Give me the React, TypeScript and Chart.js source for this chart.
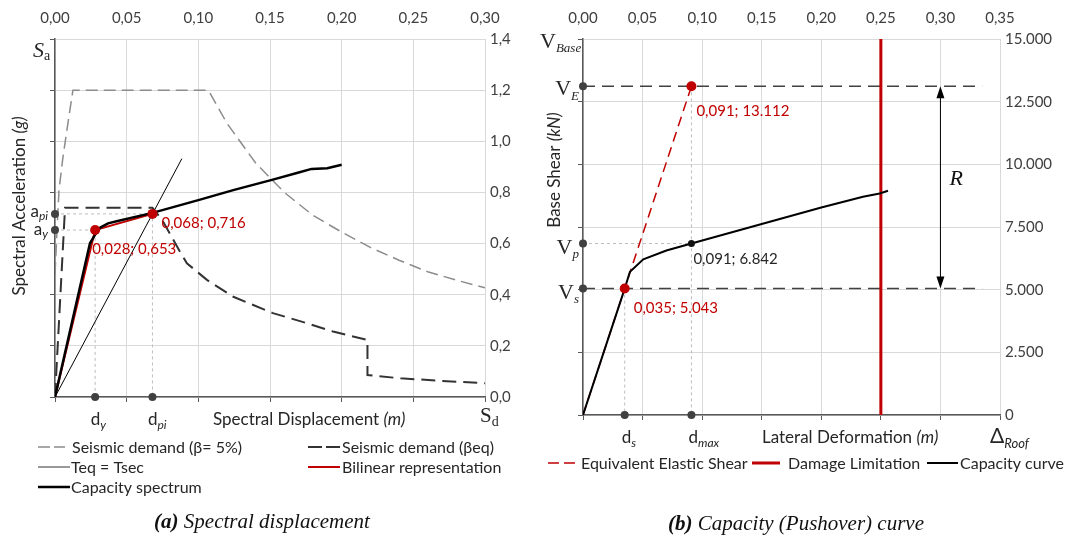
import React, { useEffect, useRef } from 'react';
import { Chart, registerables } from 'chart.js';
Chart.register(...registerables);

// ---------------- (a) Spectral displacement ----------------
const demand5X = [0, 0.0014, 0.0028, 0.0056, 0.009, 0.0125, 0.107, 0.12, 0.14, 0.16, 0.18, 0.2, 0.22, 0.24, 0.26, 0.28, 0.3];
const demand5Y = [0.48, 0.65, 0.81, 0.94, 1.07, 1.2, 1.2, 1.07, 0.915, 0.8, 0.71, 0.645, 0.585, 0.535, 0.49, 0.457, 0.427];
const demandEqX = [0, 0.007, 0.068, 0.075, 0.087, 0.092, 0.106, 0.124, 0.152, 0.175, 0.194, 0.218, 0.218, 0.241, 0.27, 0.3];
const demandEqY = [0, 0.74, 0.74, 0.69, 0.57, 0.523, 0.458, 0.393, 0.328, 0.29, 0.256, 0.223, 0.086, 0.073, 0.063, 0.054];
const teqX = [0, 0.0885];
const teqY = [0, 0.932];
const capSpecX = [0, 0.0244, 0.028, 0.0314, 0.037, 0.043, 0.068, 0.1, 0.125, 0.152, 0.17, 0.179, 0.19, 0.2];
const capSpecY = [0, 0.601, 0.635, 0.662, 0.679, 0.687, 0.72, 0.77, 0.81, 0.85, 0.878, 0.892, 0.895, 0.908];
const bilinX = [0, 0.028, 0.068];
const bilinY = [0, 0.653, 0.716];
const dY = 0.028, aY = 0.653; // yield point
const dPi = 0.068, aPi = 0.716; // performance point
const leftXTicks = { min: 0, max: 0.3, step: 0.05 };
const leftYTicks = { min: 0, max: 1.4, step: 0.2 };

// ---------------- (b) Capacity (Pushover) curve ----------------
const pushX = [0, 0.035, 0.0394, 0.0506, 0.07, 0.091, 0.15, 0.2, 0.235, 0.249, 0.256];
const pushY = [0, 5043, 5714, 6208, 6560, 6842, 7620, 8280, 8706, 8840, 8944];
const dS = 0.035, vS = 5043;
const dMax = 0.091, vP = 6842;
const vE = 13112;
const elasticX = [0, dMax];
const elasticY = [0, vE];
const damageLimitX = 0.25;
const dashedEndX = 0.335;
const arrowX = 0.3;
const rightXTicks = { min: 0, max: 0.35, step: 0.05 };
const rightYTicks = { min: 0, max: 15000, step: 2500 };

// ---------------- styling ----------------
const SANS = 'Lato, "Open Sans", sans-serif';
const SERIF = '"Liberation Serif", "DejaVu Serif", serif';
const RED = '#c00000';
const DARK = '#404040';
const TEXT = '#262626';
const GRID = '#d9d9d9';
const AXIS = '#595959';
const GUIDE = '#bdbdbd';
const GRAY_DEMAND = '#8c8c8c';

const fnt = (size: number, style = '', family = SANS) => `${style} ${size}px ${family}`.trim();
const pts = (xs: number[], ys: number[]) => xs.map((x, i) => ({ x, y: ys[i] }));
const comma = (v: number, d: number) => Number(v).toFixed(d).replace('.', ',');
const thousands = (v: number) => String(Math.round(v)).replace(/\B(?=(\d{3})+(?!\d))/g, '.');

type Seg = { t: string; f: string; dy?: number; c?: string };
function drawRich(ctx: CanvasRenderingContext2D, x: number, y: number, segs: Seg[], align: 'left' | 'center' | 'right' = 'left', color = TEXT) {
  ctx.save();
  ctx.textBaseline = 'alphabetic';
  ctx.textAlign = 'left';
  let w = 0;
  for (const s of segs) { ctx.font = s.f; w += ctx.measureText(s.t).width; }
  let cx = align === 'left' ? x : align === 'center' ? x - w / 2 : x - w;
  for (const s of segs) {
    ctx.font = s.f;
    ctx.fillStyle = s.c || color;
    ctx.fillText(s.t, cx, y + (s.dy || 0));
    cx += ctx.measureText(s.t).width;
  }
  ctx.restore();
}
function legendLine(ctx: CanvasRenderingContext2D, x1: number, x2: number, y: number, color: string, width: number, dash: number[] = []) {
  ctx.save();
  ctx.strokeStyle = color;
  ctx.lineWidth = width;
  ctx.setLineDash(dash);
  ctx.beginPath();
  ctx.moveTo(x1, y);
  ctx.lineTo(x2, y);
  ctx.stroke();
  ctx.restore();
}

const lineDs = (label: string, data: any[], color: string, width: number, dash: number[] = [], order = 5) => ({
  label, data, showLine: true, borderColor: color, backgroundColor: color, borderWidth: width,
  borderDash: dash, pointRadius: 0, tension: 0, order,
});
const markerDs = (label: string, data: any[], color: string, radius: number, order = 0) => ({
  label, data, showLine: false, pointRadius: radius, pointBackgroundColor: color, pointBorderColor: color,
  pointBorderWidth: 0, clip: false as any, order,
});

const fixedW = (w: number) => (s: any) => { s.width = w; };
const fixedH = (h: number) => (s: any) => { s.height = h; };

function axisSet(xr: any, yr: any, dims: { left: number; right: number; top: number; bottom: number }, xFmt: (v: number) => string, yFmt: (v: number) => string) {
  const tickFont = { family: SANS, size: 15 };
  return {
    x: {
      type: 'linear', position: 'bottom', min: xr.min, max: xr.max, afterFit: fixedH(dims.bottom),
      ticks: { stepSize: xr.step, display: false },
      grid: { color: GRID, tickColor: AXIS, tickLength: 5, lineWidth: 1 },
      border: { color: AXIS, width: 1.5 },
    },
    x2: {
      type: 'linear', position: 'top', min: xr.min, max: xr.max, afterFit: fixedH(dims.top),
      ticks: { stepSize: xr.step, padding: 12, font: tickFont, color: DARK, callback: (v: any) => xFmt(v) },
      grid: { display: false, drawTicks: false }, border: { display: false },
    },
    y: {
      type: 'linear', position: 'left', min: yr.min, max: yr.max, afterFit: fixedW(dims.left),
      ticks: { stepSize: yr.step, display: false },
      grid: { color: GRID, tickColor: AXIS, tickLength: 5, lineWidth: 1 },
      border: { color: AXIS, width: 1.5 },
    },
    y2: {
      type: 'linear', position: 'right', min: yr.min, max: yr.max, afterFit: fixedW(dims.right),
      ticks: { stepSize: yr.step, padding: 5, font: tickFont, color: DARK, callback: (v: any) => yFmt(v) },
      grid: { display: false, drawTicks: false }, border: { display: false },
    },
  };
}

function leftConfig(): any {
  const labelsPlugin = {
    id: 'leftLabels',
    afterDraw(chart: any) {
      const { ctx, scales } = chart;
      const X = (v: number) => scales.x.getPixelForValue(v);
      const Y = (v: number) => scales.y.getPixelForValue(v);
      // axis symbols
      drawRich(ctx, 33, 57, [{ t: 'S', f: fnt(22, 'italic', SERIF) }, { t: 'a', f: fnt(14, '', SERIF), dy: 3 }]);
      drawRich(ctx, 48, Y(aPi) + 3, [{ t: 'a', f: fnt(17) }, { t: 'pi', f: fnt(12, 'italic'), dy: 3 }], 'right');
      drawRich(ctx, 48, Y(aY) + 5, [{ t: 'a', f: fnt(17) }, { t: 'y', f: fnt(12, 'italic'), dy: 3 }], 'right');
      drawRich(ctx, X(dY) - 4.5, 425, [{ t: 'd', f: fnt(17) }, { t: 'y', f: fnt(12, 'italic'), dy: 4 }]);
      drawRich(ctx, X(dPi) - 4.5, 425, [{ t: 'd', f: fnt(17) }, { t: 'pi', f: fnt(12, 'italic'), dy: 4 }]);
      drawRich(ctx, 213, 425, [{ t: 'Spectral Displacement ', f: fnt(17) }, { t: '(m)', f: fnt(17, 'italic') }]);
      drawRich(ctx, 480, 422, [{ t: 'S', f: fnt(21, '', SERIF) }, { t: 'd', f: fnt(14, '', SERIF), dy: 4 }]);
      // y title
      ctx.save();
      ctx.translate(25, 206);
      ctx.rotate(-Math.PI / 2);
      drawRich(ctx, 0, 0, [{ t: 'Spectral Acceleration ', f: fnt(17) }, { t: '(g)', f: fnt(17, 'italic') }], 'center');
      ctx.restore();
      // point labels
      drawRich(ctx, X(dPi) + 9, Y(aPi) + 14, [{ t: `${comma(dPi, 3)}; ${comma(aPi, 3)}`, f: fnt(15) }], 'left', RED);
      drawRich(ctx, X(dY) - 3, Y(aY) + 24, [{ t: `${comma(dY, 3)}; ${comma(aY, 3)}`, f: fnt(15) }], 'left', RED);
      // legend
      const lf = fnt(16);
      legendLine(ctx, 38, 65, 447, GRAY_DEMAND, 1.5, [12, 4]);
      drawRich(ctx, 72, 453, [{ t: 'Seismic demand (β= 5%)', f: lf }]);
      legendLine(ctx, 308, 340, 447, '#333333', 2, [14, 4]);
      drawRich(ctx, 342, 453, [{ t: 'Seismic demand (βeq)', f: lf }]);
      legendLine(ctx, 38, 70, 467, '#333333', 1);
      drawRich(ctx, 71, 473, [{ t: 'Teq = Tsec', f: lf }]);
      legendLine(ctx, 308, 340, 467, RED, 2);
      drawRich(ctx, 342, 473, [{ t: 'Bilinear representation', f: lf }]);
      legendLine(ctx, 38, 70, 487, '#000000', 2.5);
      drawRich(ctx, 71, 493, [{ t: 'Capacity spectrum', f: lf }]);
      // caption
      drawRich(ctx, 262, 528, [{ t: '(a)', f: fnt(21, 'italic bold', SERIF) }, { t: ' Spectral displacement', f: fnt(21, 'italic', SERIF) }], 'center', '#111111');
    },
  };
  return {
    type: 'scatter',
    data: {
      datasets: [
        markerDs('axis marks', [{ x: 0, y: aPi }, { x: 0, y: aY }, { x: dY, y: 0 }, { x: dPi, y: 0 }], DARK, 4, 0),
        markerDs('points', [{ x: dY, y: aY }, { x: dPi, y: aPi }], RED, 5, 1),
        lineDs('Capacity spectrum', pts(capSpecX, capSpecY), '#000000', 2.5, [], 2),
        lineDs('Bilinear representation', pts(bilinX, bilinY), RED, 2, [], 3),
        lineDs('Teq = Tsec', pts(teqX, teqY), '#000000', 1, [], 4),
        lineDs('Seismic demand (βeq)', pts(demandEqX, demandEqY), '#333333', 2, [14, 7], 5),
        lineDs('Seismic demand (β= 5%)', pts(demand5X, demand5Y), GRAY_DEMAND, 1.5, [12, 6], 6),
        lineDs('guide pi', [{ x: 0, y: aPi }, { x: dPi, y: aPi }, { x: dPi, y: 0 }], GUIDE, 1, [3, 3], 7),
        lineDs('guide y', [{ x: 0, y: aY }, { x: dY, y: aY }, { x: dY, y: 0 }], GUIDE, 1, [3, 3], 8),
      ],
    },
    options: {
      responsive: false, maintainAspectRatio: false, animation: false, events: [],
      layout: { padding: 0 },
      plugins: { legend: { display: false }, tooltip: { enabled: false } },
      scales: axisSet(leftXTicks, leftYTicks, { left: 55, right: 50, top: 39, bottom: 142 }, (v) => comma(v, 2), (v) => comma(v, 1)),
    },
    plugins: [labelsPlugin],
  };
}

function rightConfig(): any {
  const labelsPlugin = {
    id: 'rightLabels',
    afterDraw(chart: any) {
      const { ctx, scales } = chart;
      const X = (v: number) => scales.x.getPixelForValue(v);
      const Y = (v: number) => scales.y.getPixelForValue(v);
      const vf = fnt(22, '', SERIF);
      const sf = fnt(13, 'italic', SERIF);
      drawRich(ctx, 5, 48, [{ t: 'V', f: vf }, { t: 'Base', f: sf, dy: 4 }]);
      drawRich(ctx, 44, Y(vE) + 9, [{ t: 'V', f: vf }, { t: 'E', f: sf, dy: 5 }], 'right');
      drawRich(ctx, 44, Y(vP) + 11, [{ t: 'V', f: vf }, { t: 'p', f: sf, dy: 4 }], 'right');
      drawRich(ctx, 44, Y(vS) + 10, [{ t: 'V', f: vf }, { t: 's', f: sf, dy: 4 }], 'right');
      // y title
      ctx.save();
      ctx.translate(25, 170);
      ctx.rotate(-Math.PI / 2);
      drawRich(ctx, 0, 0, [{ t: 'Base Shear ', f: fnt(17) }, { t: '(kN)', f: fnt(17, 'italic') }], 'center');
      ctx.restore();
      // bottom labels
      drawRich(ctx, X(dS) - 3, 443, [{ t: 'd', f: fnt(17) }, { t: 's', f: fnt(12, 'italic'), dy: 4 }]);
      drawRich(ctx, X(dMax) - 3, 443, [{ t: 'd', f: fnt(17) }, { t: 'max', f: fnt(12, 'italic'), dy: 4 }]);
      drawRich(ctx, 762 - 535, 443, [{ t: 'Lateral Deformation ', f: fnt(17) }, { t: '(m)', f: fnt(17, 'italic') }]);
      drawRich(ctx, 990 - 535, 443, [{ t: 'Δ', f: fnt(21) }, { t: 'Roof', f: fnt(13, 'italic'), dy: 5 }]);
      // point labels
      drawRich(ctx, X(dMax) + 5, Y(vE) + 30, [{ t: `${comma(dMax, 3)}; ${thousands(vE)}`, f: fnt(15) }], 'left', RED);
      drawRich(ctx, X(dMax) + 2, Y(vP) + 21, [{ t: `${comma(dMax, 3)}; ${thousands(vP)}`, f: fnt(15) }], 'left', TEXT);
      drawRich(ctx, X(dS) + 9, Y(vS) + 24, [{ t: `${comma(dS, 3)}; ${thousands(vS)}`, f: fnt(15) }], 'left', RED);
      // R arrow
      const ax = X(arrowX), y1 = Y(vE), y2 = Y(vS);
      ctx.save();
      ctx.strokeStyle = '#000';
      ctx.fillStyle = '#000';
      ctx.lineWidth = 1;
      ctx.beginPath();
      ctx.moveTo(ax, y1 + 10);
      ctx.lineTo(ax, y2 - 10);
      ctx.stroke();
      ctx.beginPath();
      ctx.moveTo(ax, y1); ctx.lineTo(ax - 4, y1 + 12); ctx.lineTo(ax + 4, y1 + 12); ctx.closePath(); ctx.fill();
      ctx.beginPath();
      ctx.moveTo(ax, y2); ctx.lineTo(ax - 4, y2 - 12); ctx.lineTo(ax + 4, y2 - 12); ctx.closePath(); ctx.fill();
      ctx.restore();
      drawRich(ctx, ax + 9, (y1 + y2) / 2 - 2, [{ t: 'R', f: fnt(22, 'italic', SERIF) }], 'left', '#111');
      // legend
      const lf = fnt(16);
      legendLine(ctx, 13, 40, 463, RED, 1.5, [11, 5]);
      drawRich(ctx, 46, 469, [{ t: 'Equivalent Elastic Shear', f: lf }]);
      legendLine(ctx, 217, 245, 463, RED, 3);
      drawRich(ctx, 253, 469, [{ t: 'Damage Limitation', f: lf }]);
      legendLine(ctx, 392, 423, 463, '#000000', 2);
      drawRich(ctx, 425, 469, [{ t: 'Capacity curve', f: lf }]);
      // caption
      drawRich(ctx, 261, 530, [{ t: '(b)', f: fnt(21, 'italic bold', SERIF) }, { t: ' Capacity (Pushover) curve', f: fnt(21, 'italic', SERIF) }], 'center', '#111111');
    },
  };
  return {
    type: 'scatter',
    data: {
      datasets: [
        markerDs('axis marks', [{ x: 0, y: vE }, { x: 0, y: vP }, { x: 0, y: vS }, { x: dS, y: 0 }, { x: dMax, y: 0 }], DARK, 4, 0),
        markerDs('red points', [{ x: dMax, y: vE }, { x: dS, y: vS }], RED, 5, 1),
        markerDs('black point', [{ x: dMax, y: vP }], '#111111', 3.5, 1),
        lineDs('Capacity curve', pts(pushX, pushY), '#000000', 2, [], 2),
        lineDs('Equivalent Elastic Shear', pts(elasticX, elasticY), RED, 1.5, [10, 6], 3),
        lineDs('Damage Limitation', [{ x: damageLimitX, y: rightYTicks.min }, { x: damageLimitX, y: rightYTicks.max }], RED, 3, [], 4),
        lineDs('V_E line', [{ x: 0, y: vE }, { x: dashedEndX, y: vE }], DARK, 1.5, [12, 7], 5),
        lineDs('V_s line', [{ x: 0, y: vS }, { x: dashedEndX, y: vS }], DARK, 1.5, [12, 7], 6),
        lineDs('guide p', [{ x: 0, y: vP }, { x: dMax, y: vP }], GUIDE, 1, [3, 3], 7),
        lineDs('guide max', [{ x: dMax, y: vE }, { x: dMax, y: 0 }], GUIDE, 1, [3, 3], 8),
        lineDs('guide s', [{ x: dS, y: vS }, { x: dS, y: 0 }], GUIDE, 1, [3, 3], 9),
      ],
    },
    options: {
      responsive: false, maintainAspectRatio: false, animation: false, events: [],
      layout: { padding: 0 },
      plugins: { legend: { display: false }, tooltip: { enabled: false } },
      scales: axisSet(rightXTicks, rightYTicks, { left: 48, right: 69, top: 39, bottom: 124 }, (v) => comma(v, 2), (v) => thousands(v)),
    },
    plugins: [labelsPlugin],
  };
}

export default function App() {
  const leftRef = useRef<HTMLCanvasElement>(null);
  const rightRef = useRef<HTMLCanvasElement>(null);
  useEffect(() => {
    const lc = new Chart(leftRef.current as HTMLCanvasElement, leftConfig());
    const rc = new Chart(rightRef.current as HTMLCanvasElement, rightConfig());
    return () => { lc.destroy(); rc.destroy(); };
  }, []);
  return (
    <div style={{ position: 'absolute', left: 0, top: 0, width: 1069, height: 539, background: '#fff', overflow: 'hidden' }}>
      <canvas ref={leftRef} width={535} height={539} style={{ position: 'absolute', left: 0, top: 0 }} />
      <canvas ref={rightRef} width={534} height={539} style={{ position: 'absolute', left: 535, top: 0 }} />
    </div>
  );
}
